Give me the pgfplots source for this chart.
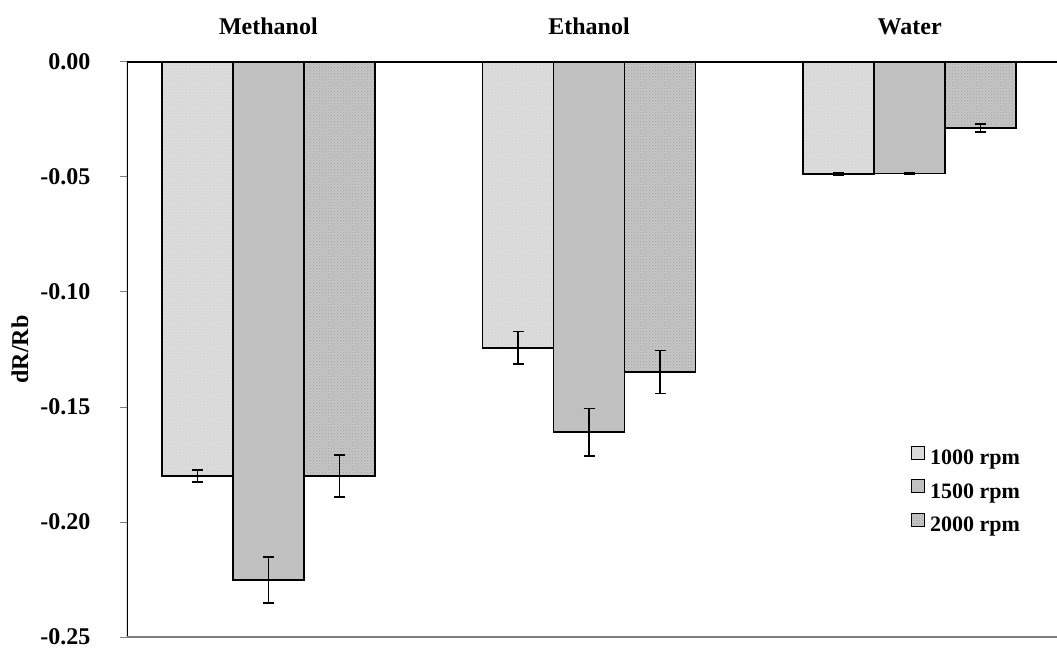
\documentclass[border=0pt]{standalone}
\usepackage{fontspec}
\setmainfont{Liberation Serif}
\usepackage{pgfplots}
\pgfplotsset{compat=1.18}
\usetikzlibrary{patterns}
\definecolor{cA}{HTML}{DCDCDC}
\definecolor{cAp}{HTML}{C2C2C2}
\definecolor{cB}{HTML}{C0C0C0}
\definecolor{cC}{HTML}{C6C6C6}
\definecolor{cCp}{HTML}{A0A0A0}
\definecolor{axgray}{HTML}{808080}
\newcommand{\ff}{\fontsize{24}{28}\selectfont\bfseries}
\newcommand{\lf}{\fontsize{22}{26}\selectfont\bfseries}
\begin{document}
\begin{tikzpicture}
\begin{axis}[
  scale only axis,
  width=930pt, height=575pt,
  xmin=-0.4408, xmax=2.4595,
  ymin=-0.25, ymax=0,
  axis line style={draw=none},
  xtick={0,1,2},
  xticklabels={Methanol,Ethanol,Water},
  xtick pos=upper, xticklabel pos=upper,
  x tick style={draw=none},
  xticklabel style={font=\ff, anchor=base, yshift=20pt},
  ytick={-0.25,-0.20,-0.15,-0.10,-0.05,0},
  yticklabels={-0.25,-0.20,-0.15,-0.10,-0.05,0.00},
  ytick pos=left,
  tick align=outside,
  major tick length=7pt,
  y tick style={axgray, line width=1pt},
  yticklabel style={font=\ff, anchor=east, xshift=-26pt},
  ylabel={dR/Rb},
  ylabel style={font=\ff, at={([xshift=-107pt]rel axis cs:0,0.5)}, anchor=center},
  ybar=0pt,
  bar width=71pt,
  every axis plot/.append style={draw=black, line width=1.4pt},
  error bars/error bar style={black, line width=1.3pt},
  error bars/error mark options={rotate=90, mark size=5.5pt, line width=1.3pt, black},
  legend style={draw=none, fill=none, font=\lf, at={(rel axis cs:0.843,0.333)}, anchor=north west, inner sep=0pt, row sep=11pt, legend cell align=left,
    nodes={inner xsep=5pt}},
  legend image code/.code={\draw[#1, /tikz/line width=1pt] (0pt,-1pt) rectangle (13pt,12pt);},
]
\addplot[fill=cA, postaction={pattern=dots, pattern color=cAp},
  error bars/.cd, y dir=both, y explicit]
  coordinates {(0,-0.1800) +- (0,0.0026) (1,-0.1243) +- (0,0.0070) (2,-0.0487) +- (0,0.0006)};
\addplot[fill=cB,
  error bars/.cd, y dir=both, y explicit]
  coordinates {(0,-0.2252) +- (0,0.0100) (1,-0.1609) +- (0,0.0104) (2,-0.0485) +- (0,0.0004)};
\addplot[fill=cC, postaction={pattern=crosshatch dots, pattern color=cCp},
  error bars/.cd, y dir=both, y explicit]
  coordinates {(0,-0.1800) +- (0,0.0091) (1,-0.1348) +- (0,0.0093) (2,-0.0287) +- (0,0.0017)};
\legend{1000 rpm,1500 rpm,2000 rpm}
\draw[black, line width=1.2pt] (rel axis cs:0,0) -- (rel axis cs:0,1);
\draw[axgray, line width=1.5pt] (rel axis cs:0,0) -- (rel axis cs:1,0);
\draw[black, line width=1.2pt] (rel axis cs:0,1) -- (rel axis cs:1,1);
\coordinate (BL) at (rel axis cs:0,0);
\coordinate (TR) at (rel axis cs:1,1);
\end{axis}
\pgfresetboundingbox
\useasboundingbox ([shift={(-127pt,-11pt)}]BL) rectangle ([shift={(0pt,62pt)}]TR);
\end{tikzpicture}
\end{document}
